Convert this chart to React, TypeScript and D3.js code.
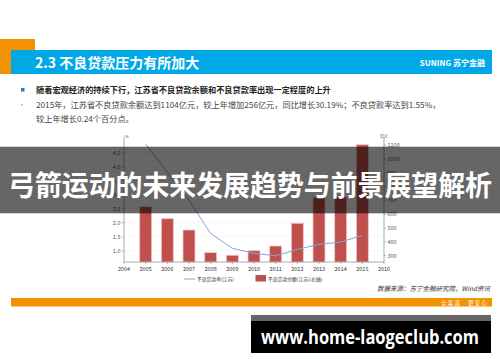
import React from "react";
import * as d3 from "d3";

const years = [2005, 2006, 2007, 2008, 2009, 2010, 2011, 2012, 2013, 2014, 2015];
const nplRatio = [4.8, 3.8, 2.8, 1.62, 1.09, 0.91, 0.82, 1.05, 1.23, 1.31, 1.55];
const nplAmount = [655, 568, 486, 322, 303, 336, 370, 535, 720, 725, 1104];
const xTicks = [2004, 2005, 2006, 2007, 2008, 2009, 2010, 2011, 2012, 2013, 2014, 2015, 2016];
const leftTicks = [1.0, 1.5, 2.0, 2.5, 3.0, 3.5, 4.0, 4.5];
const rightTicks = [300, 400, 500, 600, 700, 800, 900, 1000, 1100];

const CJK = "'Noto Sans CJK SC', 'Noto Sans', sans-serif";

export default function App() {
  const x = d3.scaleLinear().domain([2004, 2016]).range([124, 384]);
  const yL = d3.scaleLinear().domain([0.6, 5.07]).range([262, 136.7]);
  const yR = d3.scaleLinear().domain([254, 1162]).range([262, 136.7]);
  const line = d3
    .line<number>()
    .x((_, i) => x(years[i]))
    .y((d) => yL(d));
  const bw = 12;

  return (
    <svg
      width={500}
      height={362}
      style={{ position: "absolute", left: 0, top: 0, background: "#fff" }}
      fontFamily={CJK}
    >
      {/* header */}
      <rect x={0} y={39} width={35} height={35} fill="#f39200" />
      <rect x={11} y={50} width={481} height={24} fill="#00a9e6" />
      <text x={35} y={67.5} fill="#fff" fontSize={14} fontWeight="bold">
        2.3 不良贷款压力有所加大
      </text>
      <text x={485} y={66} fill="#fff" fontSize={8} fontWeight="bold" textAnchor="end">
        SUNING 苏宁金融
      </text>

      {/* bullets */}
      <rect x={21} y={88} width={3.5} height={3.5} fill="#1f7fd0" />
      <text x={36} y={93} fontSize={8.2} fontWeight="bold" fill="#222">
        随着宏观经济的持续下行，江苏省不良贷款余额和不良贷款率出现一定程度的上升
      </text>
      <rect x={21} y={104} width={1.5} height={1.5} fill="#7fb3e0" />
      <text x={36} y={108} fontSize={8.2} fill="#444">
        2015年，江苏省不良贷款余额达到1104亿元，较上年增加256亿元，同比增长30.19%；不良贷款率达到1.55%，
      </text>
      <text x={36} y={122} fontSize={8.2} fill="#444">
        较上年增长0.24个百分点。
      </text>

      {/* gridlines */}
      {leftTicks.map((t) => (
        <line key={"g" + t} x1={124} x2={384} y1={yL(t)} y2={yL(t)} stroke="#eeeeee" strokeWidth={0.6} />
      ))}

      {/* bars */}
      {years.map((yr, i) => (
        <rect
          key={"b" + yr}
          x={x(yr) - bw / 2}
          y={yR(nplAmount[i])}
          width={bw}
          height={262 - yR(nplAmount[i])}
          fill="#c0504d"
          stroke="#f2c9c8"
          strokeWidth={0.8}
        />
      ))}

      {/* line */}
      <path d={line(nplRatio) || ""} fill="none" stroke="#7ea6d8" strokeWidth={1} />

      {/* axes */}
      <line x1={124} x2={124} y1={136.7} y2={262} stroke="#888" strokeWidth={0.7} />
      <line x1={384} x2={384} y1={136.7} y2={262} stroke="#888" strokeWidth={0.7} />
      <line x1={124} x2={384} y1={262} y2={262} stroke="#888" strokeWidth={0.7} />
      <text x={125} y={138} fontSize={4} fill="#555">%</text>
      <text x={380} y={138} fontSize={4} fill="#555">亿元</text>
      {leftTicks.map((t) => (
        <g key={"l" + t}>
          <line x1={122} x2={124} y1={yL(t)} y2={yL(t)} stroke="#888" strokeWidth={0.6} />
          <text x={120.5} y={yL(t) + 2} fontSize={5.5} fill="#555" textAnchor="end">
            {t.toFixed(1)}
          </text>
        </g>
      ))}
      {rightTicks.map((t) => (
        <g key={"r" + t}>
          <line x1={384} x2={386} y1={yR(t)} y2={yR(t)} stroke="#888" strokeWidth={0.6} />
          <text x={387.5} y={yR(t) + 2} fontSize={5.5} fill="#555">
            {t}
          </text>
        </g>
      ))}
      {xTicks.map((t) => (
        <g key={"x" + t}>
          <line x1={x(t)} x2={x(t)} y1={262} y2={264} stroke="#888" strokeWidth={0.6} />
          <text x={x(t)} y={271} fontSize={5.5} fill="#333" textAnchor="middle">
            {t}
          </text>
        </g>
      ))}

      {/* legend */}
      <line x1={184} x2={195} y1={279} y2={279} stroke="#7ea6d8" strokeWidth={1} />
      <text x={197} y={281} fontSize={4.8} fill="#333">不良贷款率(江苏)</text>
      <rect x={255.5} y={275} width={10.5} height={6.5} fill="#c0504d" />
      <text x={268} y={281} fontSize={4.8} fill="#333">不良贷款余额(江苏)(右轴)</text>

      {/* source */}
      <text x={490} y={291} fontSize={6.5} fill="#333" fontStyle="italic" textAnchor="end">
        数据来源：苏宁金融研究院，Wind资讯
      </text>

      {/* footer */}
      <rect x={11} y={298} width={481} height={8.5} fill="#f39200" />
      <text x={487} y={305} fontSize={5.5} fill="#fff" textAnchor="end">
        全 渠 道 　 更 安 心
      </text>

      {/* overlay banner */}
      <rect x={0} y={146.7} width={500} height={66.6} fill="rgba(0,0,0,0.6)" />
      <text
        x={8}
        y={196}
        fontSize={28}
        fontWeight="bold"
        fill="#fff"
        textLength={484}
        lengthAdjust="spacingAndGlyphs"
      >
        弓箭运动的未来发展趋势与前景展望解析
      </text>

      {/* url box */}
      <rect x={251} y={315} width={240} height={6} fill="#666" />
      <rect x={251} y={321} width={240} height={32} fill="#000" />
      <text
        x={261}
        y={344}
        fontSize={19}
        fontWeight="bold"
        fill="#fff"
        textLength={218}
        lengthAdjust="spacingAndGlyphs"
        fontFamily="'Open Sans', 'DejaVu Sans', sans-serif"
      >
        www.home-laogeclub.com
      </text>
    </svg>
  );
}
